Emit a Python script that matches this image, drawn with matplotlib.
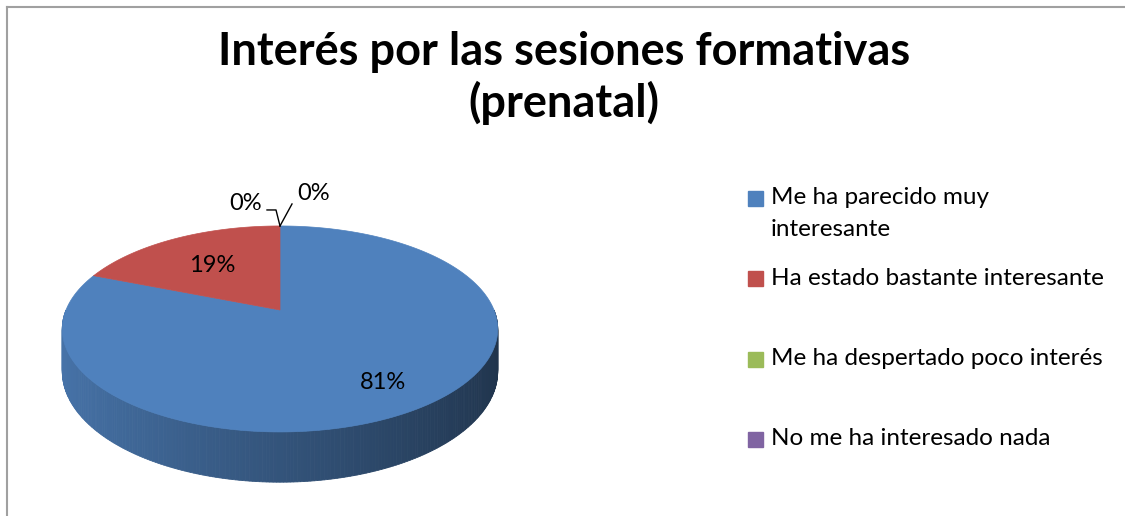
import numpy as np
import matplotlib.pyplot as plt
from matplotlib.patches import Rectangle

# ---- data ----
categories = ["Me ha parecido muy\ninteresante",
              "Ha estado bastante interesante",
              "Me ha despertado poco interés",
              "No me ha interesado nada"]
values = [81, 19, 0, 0]
colors = ["#4f81bd", "#c0504d", "#9bbb59", "#8064a2"]
title_lines = ["Interés por las sesiones formativas", "(prenatal)"]

plt.rcParams['font.family'] = ['Lato', 'DejaVu Sans']

fig = plt.figure(figsize=(11.25, 5.16), dpi=100)
ax = fig.add_axes([0, 0, 1, 1])
ax.set_xlim(0, 1125)
ax.set_ylim(516, 0)
ax.axis('off')

# chart border (only top and left visible)
ax.plot([7, 1125], [7, 7], color="#a0a0a0", lw=1.5)
ax.plot([7, 7], [7, 516], color="#a0a0a0", lw=1.5)

# title
for j, line in enumerate(title_lines):
    ax.text(564, 65 + 52 * j, line, ha='center', va='baseline', fontsize=32.5,
            fontweight='bold')

# ---- 3D pie geometry (pixels) ----
cx, cy = 280, 310        # projected centre
sx, sy = 214, 99.5       # radii
persp = 0.184            # perspective strength
depth = 41               # side height


def proj(phi, r=1.0, drop=0.0):
    w = 1 + persp * r * np.sin(phi)
    x = cx + sx * r * np.cos(phi) / w
    y = cy - sy * r * np.sin(phi) / w + drop / w
    return x, y


def shade(c, f):
    rgb = np.array(plt.matplotlib.colors.to_rgb(c))
    return tuple(np.clip(rgb * f, 0, 1))


vals = np.array(values, dtype=float)
fracs = vals / vals.sum()
# slices go clockwise from 12 o'clock
starts = np.pi / 2 - 2 * np.pi * np.concatenate([[0], np.cumsum(fracs)[:-1]])
ends = starts - 2 * np.pi * fracs


def slice_at(phi):
    for i in range(len(vals)):
        a = (starts[i] - phi) % (2 * np.pi)
        if fracs[i] > 0 and a <= 2 * np.pi * fracs[i] + 1e-9:
            return i
    return 0


# side wall (front half)
n = 240
phis = np.linspace(np.pi, 2 * np.pi, n + 1)
for p0, p1 in zip(phis[:-1], phis[1:]):
    pm = 0.5 * (p0 + p1)
    i = slice_at(pm)
    f = 0.65 - 0.25 * np.cos(pm)
    c = shade(colors[i], f)
    x0, y0 = proj(p0)
    x1, y1 = proj(p1)
    x2, y2 = proj(p1, drop=depth)
    x3, y3 = proj(p0, drop=depth)
    ax.fill([x0, x1, x2, x3], [y0, y1, y2, y3], color=c, lw=0.6, ec=c)

# top face
for i in range(len(vals)):
    if fracs[i] == 0:
        continue
    t = np.linspace(starts[i], ends[i], 300)
    xs, ys = proj(t)
    ax.fill(np.r_[cx, xs], np.r_[cy, ys], color=colors[i], lw=0.5, ec=colors[i])

# labels
lab_r = [0.76, 0.62, 1.0, 1.0]
anchor = proj(np.pi / 2)
zero_off = [(-18, -22, 'right'), (17, -32, 'left')]
k = 0
for i in range(len(vals)):
    txt = "%d%%" % round(fracs[i] * 100)
    if fracs[i] > 0:
        mid = 0.5 * (starts[i] + ends[i])
        lx, ly = proj(mid, r=lab_r[i])
        ax.text(lx, ly + 2, txt, ha='center', va='center', fontsize=17)
    else:
        dx, dy, ha = zero_off[k]
        ax_, ay_ = anchor
        if k == 0:
            ax.plot([ax_, ax_ - 4, ax_ - 13], [ay_, ay_ - 16, ay_ - 16],
                    color='black', lw=1)
        else:
            ax.plot([ax_, ax_ + 12], [ay_, ay_ - 22], color='black', lw=1)
        ax.text(ax_ + dx, ay_ + dy, txt, ha=ha, va='center', fontsize=17)
        k += 1

# legend
leg_x, leg_y0, leg_dy = 748, 198, 80.3
for i, lab in enumerate(categories):
    yc = leg_y0 + leg_dy * i
    ax.add_patch(Rectangle((leg_x, yc - 7), 15, 15, color=colors[i]))
    for j, line in enumerate(lab.split("\n")):
        ax.text(leg_x + 23, yc + 31 * j, line, ha='left', va='center',
                fontsize=17.5)

fig.savefig("out.png", dpi=100)
